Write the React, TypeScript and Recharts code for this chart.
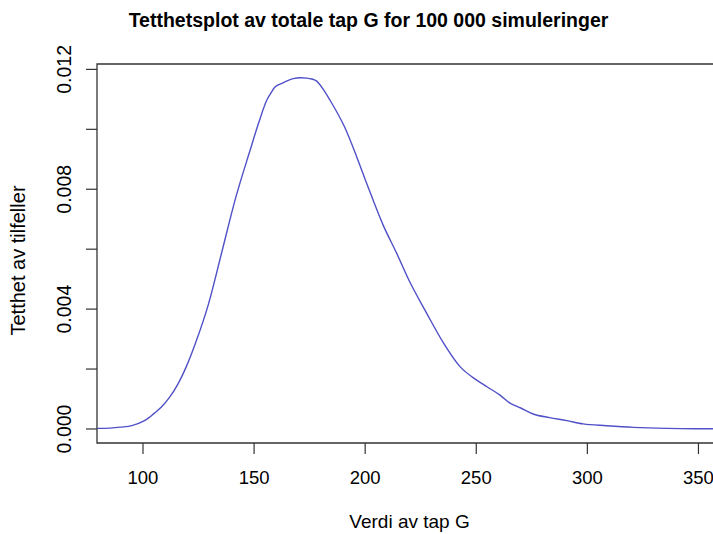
import React from "react";
import { LineChart, Line, XAxis, YAxis, ReferenceArea } from "recharts";

const xValues = [79.3, 85, 90, 95, 100, 102.4, 105, 108.4, 112, 115.9, 119.5, 123.4, 129.4, 135.4, 141.4, 148.2, 152, 155.7, 157.5, 159.4, 163, 167.6, 171, 173.7, 176, 178.2, 181, 184.2, 190.9, 196.2, 200.7, 203.6, 208, 214.2, 220, 227.7, 235, 242.7, 250.2, 255, 260.7, 265.2, 270, 275.6, 283, 290.7, 298.1, 308.7, 320.7, 335.7, 348, 360.6];
const densityValues = [0.00002, 0.00003, 0.00006, 0.00011, 0.00025, 0.00036, 0.00052, 0.00074, 0.00106, 0.00152, 0.00208, 0.00282, 0.00415, 0.00588, 0.00763, 0.0093, 0.0102, 0.01097, 0.0112, 0.01141, 0.01155, 0.01169, 0.01172, 0.01171, 0.01168, 0.01161, 0.01135, 0.01097, 0.01005, 0.00908, 0.00819, 0.00763, 0.00682, 0.00586, 0.00492, 0.00386, 0.0029, 0.00208, 0.00163, 0.0014, 0.00113, 0.00086, 0.0007, 0.0005, 0.00038, 0.00028, 0.00017, 0.00011, 0.000055, 0.00002, 0.00001, 0.00001];

const xTicks = [100, 150, 200, 250, 300, 350];
const yTicks = [0, 0.002, 0.004, 0.006, 0.008, 0.01, 0.012];
const yLabelled = ["0.000", "0.004", "0.008", "0.012"];

const title = "Tetthetsplot av totale tap G for 100 000 simuleringer";
const xLabel = "Verdi av tap G";
const yLabel = "Tetthet av tilfeller";

const data = xValues.map((x, i) => ({ x, y: densityValues[i] }));

const FONT = "'Liberation Sans', Arial, Helvetica, sans-serif";
const X_DOMAIN: [number, number] = [79.3, 360.6];
const Y_DOMAIN: [number, number] = [-0.000468, 0.01218];

const XTick = (props: any) => {
  const { x, payload } = props;
  return (
    <text x={x} y={484} textAnchor="middle" fontFamily={FONT} fontSize={18.5} fill="#000">
      {String(payload.value)}
    </text>
  );
};

const YTick = (props: any) => {
  const { y, payload } = props;
  const label = Number(payload.value).toFixed(3);
  if (!yLabelled.includes(label)) return <g />;
  return (
    <text
      transform={`translate(71, ${y}) rotate(-90)`}
      x={0}
      y={0}
      textAnchor="middle"
      fontFamily={FONT}
      fontSize={19.5}
      fill="#000"
    >
      {label}
    </text>
  );
};

export default function App() {
  return (
    <div style={{ position: "absolute", left: 0, top: 0, width: 713, height: 534, overflow: "hidden", background: "#fff" }}>
      <LineChart width={760} height={534} data={data} margin={{ top: 64, right: 38, left: 0, bottom: 0 }}>
        <XAxis
          dataKey="x"
          type="number"
          domain={X_DOMAIN}
          ticks={xTicks}
          allowDataOverflow
          axisLine={false}
          tickSize={11}
          tickLine={{ stroke: "#333", strokeWidth: 1.2 }}
          tick={<XTick />}
          height={91}
        />
        <YAxis
          type="number"
          domain={Y_DOMAIN}
          ticks={yTicks}
          allowDataOverflow
          axisLine={false}
          tickSize={11}
          tickLine={{ stroke: "#333", strokeWidth: 1.2 }}
          tick={<YTick />}
          width={97}
        />
        <ReferenceArea
          x1={X_DOMAIN[0]}
          x2={X_DOMAIN[1]}
          y1={Y_DOMAIN[0]}
          y2={Y_DOMAIN[1]}
          fill="none"
          fillOpacity={0}
          stroke="#333"
          strokeWidth={1.3}
          ifOverflow="visible"
        />
        <Line
          type="monotone"
          dataKey="y"
          stroke="#5050c8"
          strokeWidth={1.4}
          dot={false}
          isAnimationActive={false}
        />
      </LineChart>
      <svg width={713} height={534} style={{ position: "absolute", left: 0, top: 0, pointerEvents: "none" }}>
        <text x={368.5} y={27} textAnchor="middle" fontFamily={FONT} fontSize={19.5} fontWeight="bold" fill="#000">
          {title}
        </text>
        <text x={409.5} y={528} textAnchor="middle" fontFamily={FONT} fontSize={19} fill="#000">
          {xLabel}
        </text>
        <text transform="translate(25, 260.5) rotate(-90)" x={0} y={0} textAnchor="middle" fontFamily={FONT} fontSize={20} fill="#000">
          {yLabel}
        </text>
      </svg>
    </div>
  );
}
